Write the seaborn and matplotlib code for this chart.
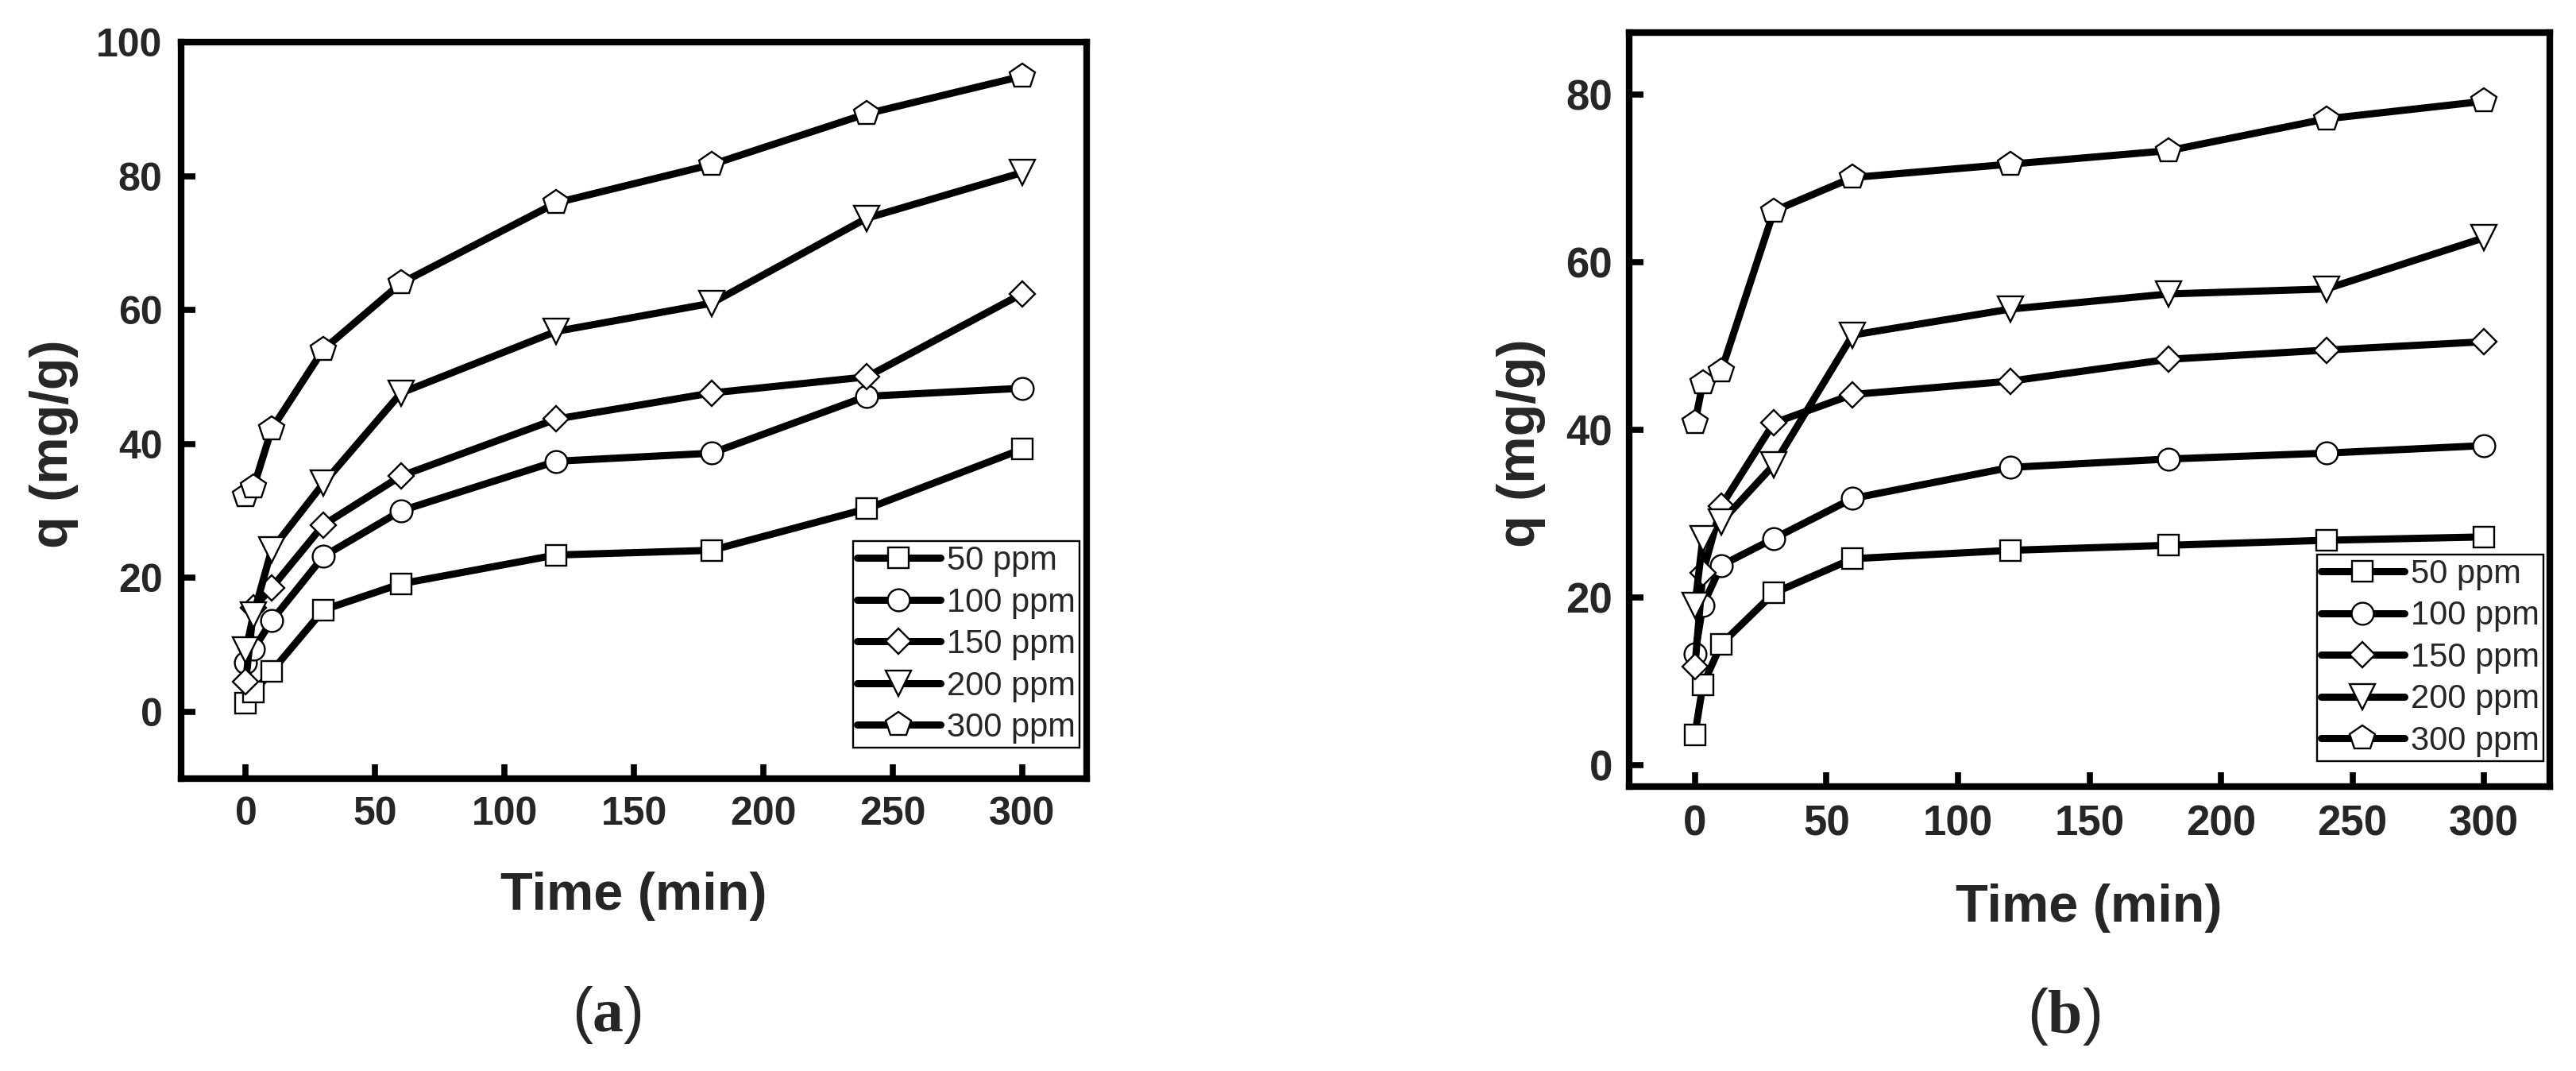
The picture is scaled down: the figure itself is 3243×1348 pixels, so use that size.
import matplotlib
matplotlib.use("Agg")
import matplotlib.pyplot as plt
import seaborn as sns
import numpy as np
import pandas as pd

# ---------------- data ----------------
time_min = [0, 3, 10, 30, 60, 120, 180, 240, 300]
series_labels = ["50 ppm", "100 ppm", "150 ppm", "200 ppm", "300 ppm"]

a_50 = [1.3, 2.9, 6.0, 15.2, 19.1, 23.4, 24.1, 30.3, 39.2]
a_100 = [7.3, 9.3, 13.6, 23.2, 30.0, 37.4, 38.6, 47.1, 48.3]
a_150 = [4.5, 15.5, 18.5, 27.9, 35.2, 43.7, 47.6, 50.0, 62.4]
a_200 = [9.2, 14.5, 24.2, 34.1, 47.6, 56.8, 61.0, 73.7, 80.5]
a_300 = [32.3, 33.5, 42.2, 54.1, 64.0, 76.0, 81.7, 89.3, 94.9]

b_50 = [3.6, 9.5, 14.4, 20.5, 24.6, 25.6, 26.2, 26.8, 27.2]
b_100 = [13.2, 19.0, 23.8, 27.0, 31.8, 35.5, 36.5, 37.2, 38.1]
b_150 = [11.7, 22.9, 30.9, 40.8, 44.2, 45.8, 48.4, 49.5, 50.5]
b_200 = [19.0, 27.0, 29.0, 35.8, 51.3, 54.4, 56.2, 56.8, 62.9]
b_300 = [40.8, 45.6, 47.0, 66.1, 70.1, 71.7, 73.3, 77.1, 79.2]

x_ticks = [0, 50, 100, 150, 200, 250, 300]
ya_ticks = [0, 20, 40, 60, 80, 100]
yb_ticks = [0, 20, 40, 60, 80]

# ---------------- style ----------------
sns.set_theme(style="ticks")
plt.rcParams["font.family"] = ["Liberation Sans", "DejaVu Sans"]
plt.rcParams["mathtext.fontset"] = "custom"
plt.rcParams["mathtext.rm"] = "Liberation Serif"
plt.rcParams["mathtext.bf"] = "Liberation Serif:bold"

markers = ["s", "o", "D", "v", "p"]
msizes = [18.5, 20, 16.5, 22.5, 23.5]

W, H = 3243, 1348
fig = plt.figure(figsize=(W / 100, H / 100), dpi=100)


def px_box(l, t, r, b):
    return [l / W, 1 - b / H, (r - l) / W, (b - t) / H]


ax_a = fig.add_axes(px_box(228, 53, 1368, 980))
ax_b = fig.add_axes(px_box(2051, 41, 3210, 990))

panels = [
    (ax_a, [a_50, a_100, a_150, a_200, a_300], (-10, 100), ya_ticks, 36, 16, 17,
     (0.992, 0.042), 30),
    (ax_b, [b_50, b_100, b_150, b_200, b_300], (-2.6, 87.4), yb_ticks, 38, 16.5, 15,
     (0.993, 0.034), 30),
]

for ax, series, ylim, yticks, tfs, xpad, ypad, leg_anchor, lfs in panels:
    for vals, lab, m, ms in zip(series, series_labels, markers, msizes):
        sns.lineplot(x=time_min, y=vals, ax=ax, label=lab, color="black",
                     marker=m, markersize=ms, markerfacecolor="white",
                     markeredgecolor="black", markeredgewidth=1.7,
                     linewidth=6.5, sort=False, estimator=None,
                     solid_capstyle="round", solid_joinstyle="round")
    ax.set_xlim(-25, 325)
    ax.set_ylim(*ylim)
    ax.set_xticks(x_ticks)
    ax.set_yticks(yticks)
    ax.set_xlabel("")
    ax.set_ylabel("")
    for sp in ax.spines.values():
        sp.set_visible(True)
        sp.set_linewidth(6)
        sp.set_color("black")
    ax.tick_params(axis="both", which="major", direction="in", length=13,
                   width=5.5, labelsize=tfs, color="black",
                   top=False, right=False)
    ax.tick_params(axis="x", pad=xpad)
    ax.tick_params(axis="y", pad=ypad)
    for lbl in ax.get_xticklabels() + ax.get_yticklabels():
        lbl.set_fontweight("bold")
    leg = ax.legend(loc="lower right", bbox_to_anchor=leg_anchor,
                    borderaxespad=0, fontsize=lfs, frameon=True,
                    fancybox=False, framealpha=1, edgecolor="black",
                    handlelength=2.5, handletextpad=0.2, borderpad=0.12,
                    labelspacing=0.3)
    leg.get_frame().set_linewidth(1.7)

# axis labels & captions (figure pixel coordinates)
def ftext(x, y, s, **kw):
    fig.text(x / W, 1 - y / H, s, **kw)

ftext(798, 1145, "Time (min)", ha="center", va="baseline", fontsize=48,
      fontweight="bold")
ftext(2630, 1160, "Time (min)", ha="center", va="baseline", fontsize=48,
      fontweight="bold")
ftext(68, 559, "q (mg/g)", ha="center", va="center", rotation=90,
      fontsize=48, fontweight="bold")
ftext(1915, 558, "q (mg/g)", ha="center", va="center", rotation=90,
      fontsize=48, fontweight="bold")
ftext(764, 1277, r"($\mathbf{a}$)", ha="center", va="center", fontsize=56)
ftext(2598, 1280, r"($\mathbf{b}$)", ha="center", va="center", fontsize=56)

fig.savefig("out.png", dpi=100, facecolor="white")
